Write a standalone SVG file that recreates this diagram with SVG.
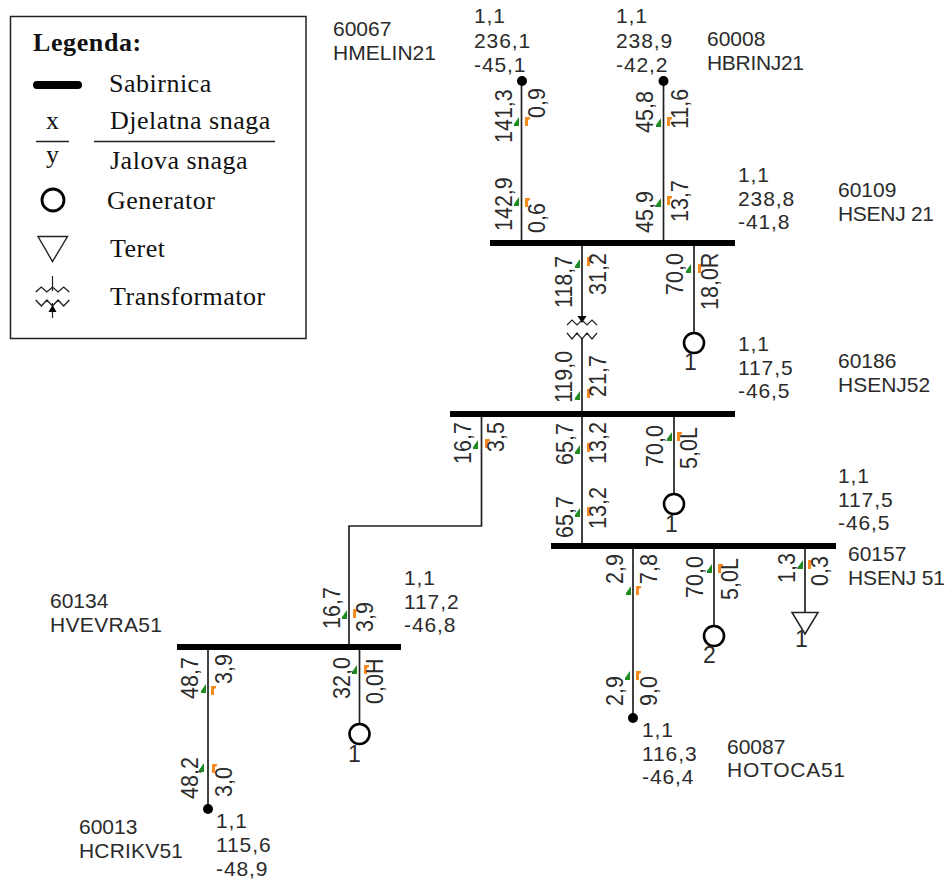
<svg xmlns="http://www.w3.org/2000/svg" width="949" height="879" viewBox="0 0 949 879">
<style>
text{font-family:"Liberation Sans",Arial,sans-serif;font-size:21px;fill:#2b2b2b}
.n{letter-spacing:.9px}
.r{font-size:21.5px}
.u{font-size:23px}
.t{font-family:"Liberation Serif","Times New Roman",serif;font-size:26px;letter-spacing:.5px;fill:#111}
.bus{stroke:#000;stroke-width:6;fill:none}
.ln{stroke:#222;stroke-width:1.7;fill:none}
.gen{stroke:#000;stroke-width:2.6;fill:#fff}
.g{fill:#1f8a1f}
.o{fill:#f58a1f}
.thin{stroke:#222;stroke-width:1.2;fill:none}
</style>
<defs>
<path id="tg" class="g" d="M2,-5V4H-3V2Z"/>
<path id="to" class="o" d="M-2,-5H3V-3L1,-2V4H-2Z"/>
<g id="xf" class="thin"><path d="M-15,-5l5,-5 5,5 5,-5 5,5 5,-5 5,5"/><path d="M-15,3l5,6 5,-6 5,6 5,-6 5,6 5,-6"/></g>
</defs>
<rect width="949" height="879" fill="#fff"/>
<g id="legend">
<rect x="10.500" y="16.500" width="295.500" height="322" fill="#fff" stroke="#222" stroke-width="1.500"/>
<text class="t" x="33" y="51" style="font-weight:bold;letter-spacing:.6px">Legenda:</text>
<line x1="37" y1="85" x2="78" y2="85" stroke="#000" stroke-width="8" stroke-linecap="round"/>
<text class="t" x="109" y="92">Sabirnica</text>
<text class="t" x="46" y="129">x</text>
<text class="t" x="110" y="129">Djelatna snaga</text>
<line x1="36" y1="141.500" x2="69" y2="141.500" stroke="#222" stroke-width="1.500"/>
<line x1="94" y1="141.500" x2="275" y2="141.500" stroke="#222" stroke-width="1.500"/>
<text class="t" x="46" y="163">y</text>
<text class="t" x="110" y="169">Jalova snaga</text>
<circle cx="53" cy="200" r="11" fill="none" stroke="#000" stroke-width="2.800"/>
<text class="t" x="107" y="209">Generator</text>
<path d="M38,236.500H67.500L52.500,261.500Z" fill="none" stroke="#222" stroke-width="1.400"/>
<text class="t" x="110" y="257">Teret</text>
<g transform="translate(52.500,297) scale(1.120,1)"><use href="#xf"/></g>
<path class="thin" d="M52.500,276V291M52.500,303V318"/><path d="M48.500,312H56.500L52.500,305Z" fill="#000"/>
<text class="t" x="110" y="305">Transformator</text>
</g>
<g id="connectors">
<path class="ln" d="M521.500,81V243M663.500,81V243M582,243V322M582,339V414M694,243V333M582,414V546M674,414V494M481.500,414V526H349V647M633,546V718M714,546V626M805,546V613M208,647V808M359.500,647V724"/>
<path d="M577.500,316H586.500L582,323Z" fill="#000"/>
</g>
<g id="flows">
<use href="#tg" x="517" y="122"/><use href="#to" x="527" y="122"/>
<use href="#tg" x="517" y="202"/><use href="#to" x="527" y="203"/>
<use href="#tg" x="659" y="123"/><use href="#to" x="669" y="122"/>
<use href="#tg" x="659" y="203"/><use href="#to" x="669" y="201"/>
<use href="#tg" x="578" y="264"/><use href="#to" x="589" y="262"/>
<use href="#tg" x="578" y="396"/><use href="#to" x="589" y="394"/>
<use href="#tg" x="689" y="269"/><use href="#to" x="700" y="269"/>
<use href="#tg" x="476" y="445"/><use href="#to" x="487" y="444"/>
<use href="#tg" x="578" y="450"/><use href="#to" x="589" y="448"/>
<use href="#tg" x="578" y="513"/><use href="#to" x="589" y="512"/>
<use href="#tg" x="670" y="437"/><use href="#to" x="679" y="437"/>
<use href="#tg" x="629" y="591"/><use href="#to" x="638" y="591"/>
<use href="#tg" x="710" y="569"/><use href="#to" x="720" y="569"/>
<use href="#tg" x="801" y="565"/><use href="#to" x="810" y="565"/>
<use href="#tg" x="628" y="676"/><use href="#to" x="638" y="676"/>
<use href="#tg" x="345" y="615"/><use href="#to" x="355" y="614"/>
<use href="#tg" x="355" y="670"/><use href="#to" x="366" y="670"/>
<use href="#tg" x="204" y="689"/><use href="#to" x="213" y="691"/>
<use href="#tg" x="202" y="768"/><use href="#to" x="214" y="769"/>
</g>
<g id="labels" class="r">
<text class="r" transform="translate(512,143) rotate(-90) scale(1,1.1)">141,3</text>
<text class="r" transform="translate(545,118) rotate(-90) scale(1,1.1)">0,9</text>
<text class="r" transform="translate(512,231) rotate(-90) scale(1,1.1)">142,9</text>
<text class="r" transform="translate(545,233) rotate(-90) scale(1,1.1)">0,6</text>
<text class="r" transform="translate(653,133) rotate(-90) scale(1,1.1)">45,8</text>
<text class="r" transform="translate(688,129) rotate(-90) scale(1,1.1)">11,6</text>
<text class="r" transform="translate(653,233) rotate(-90) scale(1,1.1)">45,9</text>
<text class="r" transform="translate(688,222) rotate(-90) scale(1,1.1)">13,7</text>
<text class="r" transform="translate(572,308) rotate(-90) scale(1,1.1)">118,7</text>
<text class="r" transform="translate(606,295) rotate(-90) scale(1,1.1)">31,2</text>
<text class="r" transform="translate(683,295) rotate(-90) scale(1,1.1)">70,0</text>
<text class="r" transform="translate(718,310) rotate(-90) scale(1,1.1)">18,0R</text>
<text class="r" transform="translate(572,403) rotate(-90) scale(1,1.1)">119,0</text>
<text class="r" transform="translate(606,397) rotate(-90) scale(1,1.1)">21,7</text>
<text class="r" transform="translate(471,464) rotate(-90) scale(1,1.1)">16,7</text>
<text class="r" transform="translate(504,452) rotate(-90) scale(1,1.1)">3,5</text>
<text class="r" transform="translate(573,465) rotate(-90) scale(1,1.1)">65,7</text>
<text class="r" transform="translate(606,464) rotate(-90) scale(1,1.1)">13,2</text>
<text class="r" transform="translate(663,467) rotate(-90) scale(1,1.1)">70,0</text>
<text class="r" transform="translate(697,469) rotate(-90) scale(1,1.1)">5,0L</text>
<text class="r" transform="translate(573,538) rotate(-90) scale(1,1.1)">65,7</text>
<text class="r" transform="translate(606,529) rotate(-90) scale(1,1.1)">13,2</text>
<text class="r" transform="translate(623,584) rotate(-90) scale(1,1.1)">2,9</text>
<text class="r" transform="translate(657,584) rotate(-90) scale(1,1.1)">7,8</text>
<text class="r" transform="translate(703,598) rotate(-90) scale(1,1.1)">70,0</text>
<text class="r" transform="translate(738,600) rotate(-90) scale(1,1.1)">5,0L</text>
<text class="r" transform="translate(795,583) rotate(-90) scale(1,1.1)">1,3</text>
<text class="r" transform="translate(828,586) rotate(-90) scale(1,1.1)">0,3</text>
<text class="r" transform="translate(623,706) rotate(-90) scale(1,1.1)">2,9</text>
<text class="r" transform="translate(657,706) rotate(-90) scale(1,1.1)">9,0</text>
<text class="r" transform="translate(340,629) rotate(-90) scale(1,1.1)">16,7</text>
<text class="r" transform="translate(373,632) rotate(-90) scale(1,1.1)">3,9</text>
<text class="r" transform="translate(350,699) rotate(-90) scale(1,1.1)">32,0</text>
<text class="r" transform="translate(383,704) rotate(-90) scale(1,1.1)">0,0H</text>
<text class="r" transform="translate(198,699) rotate(-90) scale(1,1.1)">48,7</text>
<text class="r" transform="translate(232,684) rotate(-90) scale(1,1.1)">3,9</text>
<text class="r" transform="translate(198,799) rotate(-90) scale(1,1.1)">48,2</text>
<text class="r" transform="translate(232,797) rotate(-90) scale(1,1.1)">3,0</text>
</g>
<g id="n60067"><text x="333" y="36">60067</text><text x="333" y="60" textLength="103">HMELIN21</text><text class="n" x="474" y="23">1,1</text><text class="n" x="474" y="48">236,1</text><text class="n" x="474" y="72">-45,1</text><circle cx="522" cy="81" r="5"/></g>
<g id="n60008"><text x="707" y="46">60008</text><text x="707" y="70" textLength="97">HBRINJ21</text><text class="n" x="616" y="23">1,1</text><text class="n" x="616" y="48">238,9</text><text class="n" x="616" y="72">-42,2</text><circle cx="663.500" cy="81" r="5"/></g>
<g id="n60109"><line class="bus" x1="490" y1="243" x2="735" y2="243"/><text class="n" x="738" y="182">1,1</text><text class="n" x="738" y="206">238,8</text><text class="n" x="738" y="229">-41,8</text><text x="838" y="197">60109</text><text x="838" y="221" textLength="96">HSENJ 21</text></g>
<g id="xf1"><use href="#xf" transform="translate(582,330)"/></g>
<g id="gen1"><circle class="gen" cx="694" cy="343" r="10"/><text class="u" x="684" y="370">1</text></g>
<g id="n60186"><line class="bus" x1="450" y1="414" x2="735" y2="414"/><text class="n" x="738" y="351">1,1</text><text class="n" x="738" y="375">117,5</text><text class="n" x="738" y="398">-46,5</text><text x="838" y="368">60186</text><text x="838" y="392">HSENJ52</text></g>
<g id="gen2"><circle class="gen" cx="674" cy="504" r="10"/><text class="u" x="665" y="532">1</text></g>
<g id="n60157"><line class="bus" x1="551" y1="546" x2="836" y2="546"/><text class="n" x="838" y="483">1,1</text><text class="n" x="838" y="507">117,5</text><text class="n" x="838" y="530">-46,5</text><text x="848" y="561">60157</text><text x="848" y="585" textLength="97">HSENJ 51</text></g>
<g id="gen3"><circle class="gen" cx="714" cy="636" r="10"/><text class="u" x="703" y="663">2</text></g>
<g id="load1"><path d="M792,612.500H818L805,634Z" fill="#fff" stroke="#222" stroke-width="1.500"/><text class="u" x="795" y="647">1</text></g>
<g id="n60087"><circle cx="633" cy="718" r="5"/><text class="n" x="642" y="737">1,1</text><text class="n" x="642" y="761">116,3</text><text class="n" x="642" y="784">-46,4</text><text x="727" y="754">60087</text><text x="727" y="777" textLength="118">HOTOCA51</text></g>
<g id="n60134"><line class="bus" x1="177" y1="647" x2="401" y2="647"/><text class="n" x="404" y="585">1,1</text><text class="n" x="404" y="609">117,2</text><text class="n" x="404" y="632">-46,8</text><text x="50" y="608">60134</text><text x="50" y="632" textLength="112">HVEVRA51</text></g>
<g id="gen4"><circle class="gen" cx="359.500" cy="734" r="10"/><text class="u" x="348" y="762">1</text></g>
<g id="n60013"><circle cx="208" cy="809" r="5"/><text class="n" x="216" y="828">1,1</text><text class="n" x="216" y="852">115,6</text><text class="n" x="216" y="876">-48,9</text><text x="79" y="834">60013</text><text x="79" y="858" textLength="104">HCRIKV51</text></g>
</svg>
